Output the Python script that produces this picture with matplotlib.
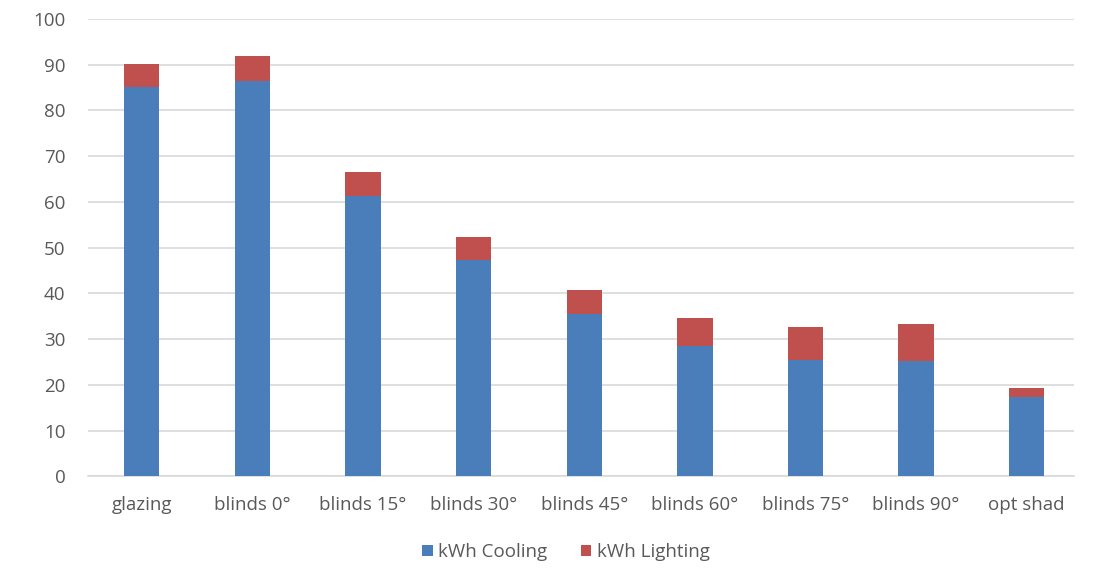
import matplotlib.pyplot as plt
import numpy as np

# ----------------------------------------------
# data
# ----------------------------------------------
categories = ["glazing", "blinds 0°", "blinds 15°", "blinds 30°", "blinds 45°",
              "blinds 60°", "blinds 75°", "blinds 90°", "opt shad"]
cooling = [85.0, 86.5, 61.3, 47.3, 35.4, 28.4, 25.5, 25.2, 17.4]
total = [90.2, 91.8, 66.4, 52.2, 40.7, 34.5, 32.7, 33.2, 19.2]
lighting = [t - c for t, c in zip(total, cooling)]

plt.rcParams['font.family'] = ['Open Sans', 'DejaVu Sans']

fig = plt.figure(figsize=(10.95, 5.69), dpi=100)
ax = fig.add_axes([0.080, 0.163, 0.901, 0.804])

x = np.arange(len(categories))
w = 0.32
ax.bar(x, cooling, w, color="#4a7ebb", label="kWh Cooling", zorder=3)
ax.bar(x, lighting, w, bottom=cooling, color="#c0504d", label="kWh Lighting", zorder=3)

ax.set_ylim(0, 100)
ax.set_xlim(-0.49, len(categories) - 0.57)
ax.set_yticks(range(0, 101, 10))
ax.set_xticks(x)
ax.set_xticklabels(categories)
ax.grid(axis="y", color="#d9d9d9", linewidth=1.2, zorder=0)

for s in ["top", "right", "left"]:
    ax.spines[s].set_visible(False)
ax.spines["bottom"].set_color("#d9d9d9")
ax.spines["bottom"].set_linewidth(1.2)
ax.tick_params(axis="both", length=0, colors="#595959", labelsize=13.5)
ax.tick_params(axis="y", pad=16)
ax.tick_params(axis="x", pad=14)

ax.legend(loc="upper center", bbox_to_anchor=(0.485, -0.11), ncol=2, frameon=False,
          fontsize=13.5, labelcolor="#595959", handlelength=0.55, handleheight=0.55,
          handletextpad=0.3, columnspacing=1.8)

fig.savefig("out.png", dpi=100)
